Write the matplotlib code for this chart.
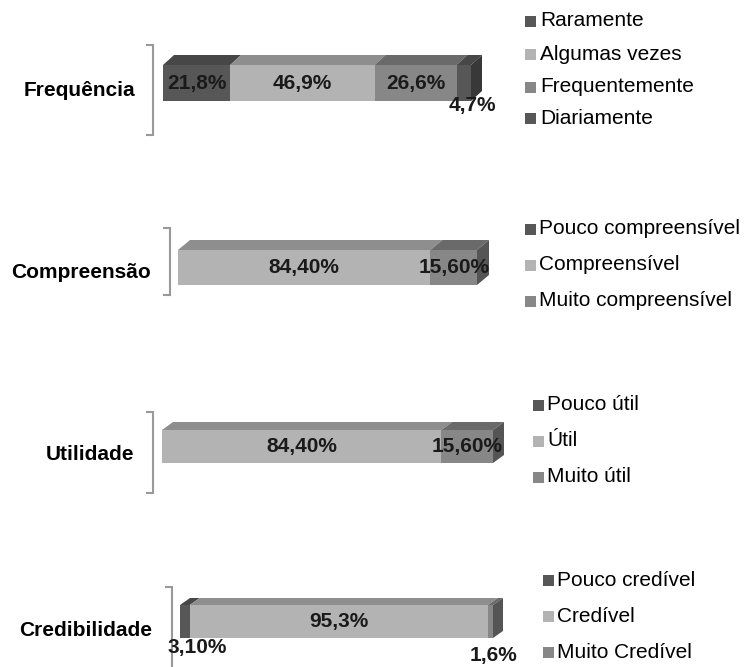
import matplotlib
matplotlib.use("Agg")
import matplotlib.pyplot as plt
from matplotlib.patches import Polygon, Rectangle

plt.rcParams["font.family"] = ["Liberation Sans", "DejaVu Sans"]

# data
categories = ["Frequência", "Compreensão", "Utilidade", "Credibilidade"]

freq_labels = ["Raramente", "Algumas vezes", "Frequentemente", "Diariamente"]
freq_values = [21.8, 46.9, 26.6, 4.7]
freq_text = ["21,8%", "46,9%", "26,6%", "4,7%"]

comp_labels = ["Pouco compreensível", "Compreensível", "Muito compreensível"]
comp_values = [0.0, 84.4, 15.6]
comp_text = ["", "84,40%", "15,60%"]

util_labels = ["Pouco útil", "Útil", "Muito útil"]
util_values = [0.0, 84.4, 15.6]
util_text = ["", "84,40%", "15,60%"]

cred_labels = ["Pouco credível", "Credível", "Muito Credível"]
cred_values = [3.1, 95.3, 1.6]
cred_text = ["3,10%", "95,3%", "1,6%"]

W, H = 748, 667
DARK, LIGHT, MID = "#575757", "#b3b3b3", "#878787"
# front colour -> (top colour, side colour)
SHADE = {DARK: ("#474747", "#383838"), LIGHT: ("#8e8e8e", "#6e6e6e"), MID: ("#6a6a6a", "#555555")}

panels = [
    dict(values=freq_values, text=freq_text, labels=freq_labels, colors=[DARK, LIGHT, MID, DARK],
         x0=163, x1=471, yt=65, yb=101, dx=11, dy=10,
         bracket=(153, 45, 135), cat=(135, 90), leg=(525, 540, [21, 54, 87, 118]),
         offsets={3: (9, 22)}),
    dict(values=comp_values, text=comp_text, labels=comp_labels, colors=[DARK, LIGHT, MID],
         x0=178, x1=477, yt=250, yb=285, dx=12, dy=10,
         bracket=(170, 228, 295), cat=(151, 273), leg=(525, 539, [229, 265, 301]), offsets={}),
    dict(values=util_values, text=util_text, labels=util_labels, colors=[DARK, LIGHT, MID],
         x0=162, x1=493, yt=430, yb=463, dx=11, dy=8,
         bracket=(153, 412, 493), cat=(134, 454), leg=(533, 547, [405, 441, 477]), offsets={}),
    dict(values=cred_values, text=cred_text, labels=cred_labels, colors=[DARK, LIGHT, MID],
         x0=180, x1=493, yt=605, yb=638, dx=10, dy=7,
         bracket=(172, 587, 670), cat=(152, 630), leg=(543, 557, [580, 616, 652]),
         offsets={0: (12, 26), 2: (3, 34)}),
]

fig = plt.figure(figsize=(W / 100, H / 100), dpi=100)
bg = fig.add_axes([0, 0, 1, 1])
bg.set_xlim(0, W)
bg.set_ylim(H, 0)
bg.axis("off")

for cat, p in zip(categories, panels):
    ax = fig.add_axes([0, 0, 1, 1])
    ax.patch.set_alpha(0)
    ax.axis("off")
    scale = 100.0 / (p["x1"] - p["x0"])
    ax.set_xlim(-p["x0"] * scale, (W - p["x0"]) * scale)
    ax.set_ylim(H, 0)

    yt, yb, dy = p["yt"], p["yb"], p["dy"]
    ddx = p["dx"] * scale
    yc = (yt + yb) / 2

    left = 0.0
    last = max(i for i, v in enumerate(p["values"]) if v > 0)
    for i, (v, c, t) in enumerate(zip(p["values"], p["colors"], p["text"])):
        if v <= 0:
            continue
        right = left + v
        top_c, side_c = SHADE[c]
        ax.add_patch(Polygon([(left, yt), (left + ddx, yt - dy), (right + ddx, yt - dy), (right, yt)],
                             closed=True, facecolor=top_c, edgecolor="none"))
        if i == last:
            ax.add_patch(Polygon([(right, yt), (right + ddx, yt - dy), (right + ddx, yb - dy), (right, yb)],
                                 closed=True, facecolor=side_c, edgecolor="none"))
        ax.barh(yc, v, left=left, height=yb - yt, color=c, edgecolor="none")
        ox, oy = p["offsets"].get(i, (0, 0))
        ax.text(left + v / 2 + ox * scale, yc + oy, t, ha="center", va="center",
                fontsize=15, fontweight="bold", color="#1a1a1a")
        left = right

    # axis bracket
    bx, by0, by1 = p["bracket"]
    bg.plot([bx - 6, bx, bx, bx - 6], [by0, by0, by1, by1], color="#999999", lw=1.5,
            solid_joinstyle="miter")

    # category label
    bg.text(p["cat"][0], p["cat"][1], cat, ha="right", va="center", fontsize=15,
            fontweight="bold", color="black")

    # legend
    sx, tx, ys = p["leg"]
    for lab, c, y in zip(p["labels"], p["colors"], ys):
        bg.add_patch(Rectangle((sx, y - 5), 11, 11, facecolor=c, edgecolor="none"))
        bg.text(tx, y, lab, ha="left", va="center", fontsize=15, color="black")

fig.savefig("out.png", dpi=100)
